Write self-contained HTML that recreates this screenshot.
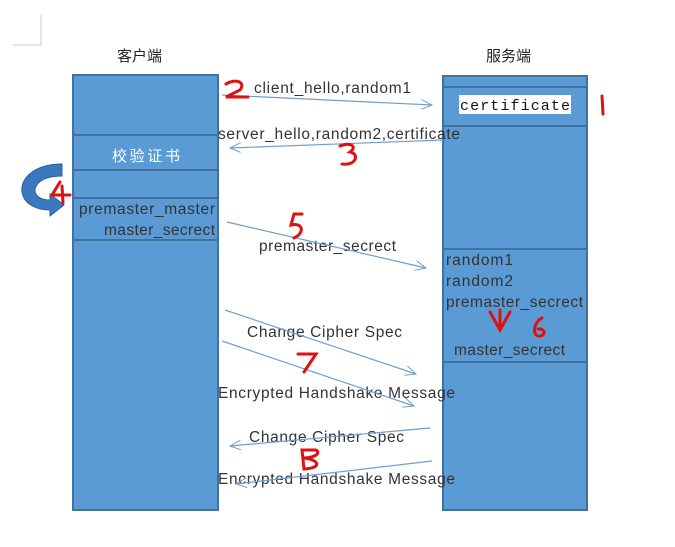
<!DOCTYPE html>
<html><head><meta charset="utf-8"><style>
body{margin:0;background:#fff;width:675px;height:547px;overflow:hidden;}
svg{display:block}
text{font-family:"Liberation Sans","Noto Sans CJK SC",sans-serif;}
</style></head><body>
<svg width="675" height="547" viewBox="0 0 675 547" xmlns="http://www.w3.org/2000/svg">
<defs><marker id="a" markerWidth="12" markerHeight="10" refX="11" refY="5" orient="auto" markerUnits="userSpaceOnUse"><path d="M0,0 L11,5 L0,10" fill="none" stroke="#6e9fcf" stroke-width="1"/></marker></defs>
<path d="M13,45 H41 V15" fill="none" stroke="#ccc"/>
<text x="117" y="61" font-size="15" fill="#222">客户端</text>
<text x="486" y="61" font-size="15" fill="#222">服务端</text>
<g stroke="#41719c" stroke-width="2" fill="#5b9bd5">
<rect x="73" y="75" width="145" height="435"/>
<rect x="443" y="76" width="144" height="434"/>
<path d="M73,135H218M73,170H218M73,198H218M73,240H218M443,87H587M443,126H587M443,249H587M443,362H587" fill="none"/>
</g>
<rect x="459" y="95" width="112" height="19" fill="#fff"/>
<text x="460" y="110" font-size="15" textLength="110" style="font-family:'Liberation Mono',monospace" fill="#111">certificate</text>
<text x="112" y="161" font-size="15" fill="#fff" textLength="68">校验证书</text>
<g font-size="15.5" fill="#333" lengthAdjust="spacingAndGlyphs">
<text x="79" y="214" textLength="136">premaster_master</text>
<text x="104" y="235" textLength="111">master_secrect</text>
<text x="446" y="265" textLength="67">random1</text>
<text x="446" y="286" textLength="67">random2</text>
<text x="446" y="307" textLength="137">premaster_secrect</text>
<text x="454" y="355" textLength="111">master_secrect</text>
<text x="254" y="93" textLength="157">client_hello,random1</text>
<text x="218" y="139" textLength="242">server_hello,random2,certificate</text>
<text x="259" y="251" textLength="137">premaster_secrect</text>
<text x="247" y="337" textLength="155">Change Cipher Spec</text>
<text x="218" y="398" textLength="237">Encrypted Handshake Message</text>
<text x="249" y="442" textLength="155">Change Cipher Spec</text>
<text x="218" y="484" textLength="237">Encrypted Handshake Message</text>
</g>
<g stroke="#6e9fcf" stroke-width="1.2" fill="none" marker-end="url(#a)">
<line x1="222" y1="95" x2="432" y2="105"/>
<line x1="443" y1="140" x2="230" y2="148"/>
<line x1="227" y1="222" x2="426" y2="268"/>
<line x1="225" y1="310" x2="416" y2="374"/>
<line x1="222" y1="341" x2="414" y2="406"/>
<line x1="430" y1="428" x2="230" y2="446"/>
<line x1="432" y1="461" x2="236" y2="484"/>
</g>
<path d="M62,164 C35,164 20,178 22,192 C24,204 36,210 50,210 L50,216 L64,205 L50,194 L50,200 C40,200 34,195 35,189 C37,180 48,176 62,176 Z" fill="#3a78c0" stroke="#2e5f94"/>
<g stroke="#e01010" stroke-width="3" fill="none" stroke-linecap="round">
<path d="M226,84 C236,78 246,82 240,90 L226,97 H248"/>
<path d="M602,96 L603,114"/>
<path d="M340,146 C350,142 358,146 350,152 C360,154 356,166 342,164"/>
<path d="M60,182 L52,195 H70 M62,186 L63,203"/>
<path d="M302,214 H294 L291,225 C302,222 306,232 294,238"/>
<path d="M490,312 L500,330 L510,312 M500,310 V330"/>
<path d="M542,318 C534,322 532,334 538,336 C546,337 546,328 538,329"/>
<path d="M298,354 H316 L304,372"/>
<path d="M302,450 H316 C322,454 312,458 304,458 C320,460 322,468 304,469 Z"/>
</g>
</svg>
</body></html>
